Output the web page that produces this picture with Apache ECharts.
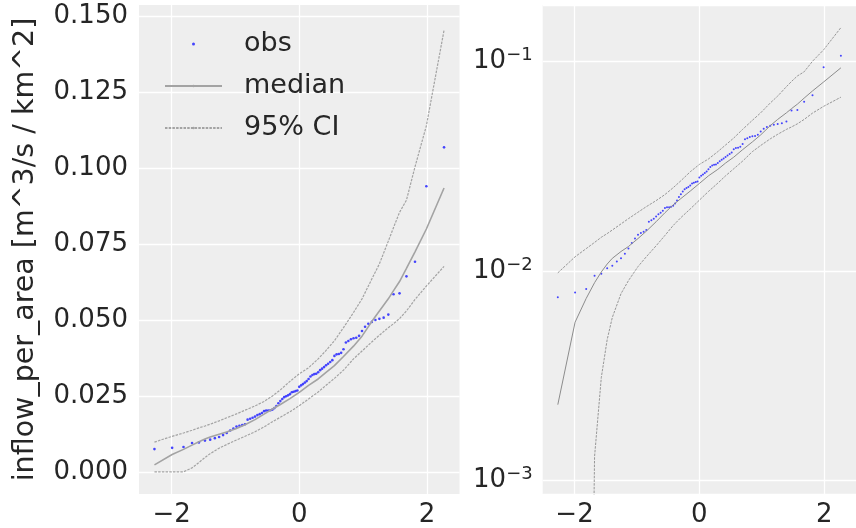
<!DOCTYPE html>
<html>
<head>
<meta charset="utf-8">
<script src="https://cdn.jsdelivr.net/npm/echarts@6/dist/echarts.min.js"></script>
<style>
  html, body { margin: 0; padding: 0; background: #fff; }
  #main { width: 856px; height: 528px; }
</style>
</head>
<body>
<div id="main"></div>
<script>
// theoretical normal quantiles of the sorted observations
const obsX = [-2.268, -1.991, -1.813, -1.679, -1.571, -1.477, -1.395, -1.322, -1.255, -1.193,
  -1.136, -1.082, -1.031, -0.983, -0.937, -0.893, -0.850, -0.809, -0.769, -0.731,
  -0.693, -0.656, -0.620, -0.585, -0.551, -0.518, -0.485, -0.452, -0.420, -0.389,
  -0.358, -0.327, -0.296, -0.266, -0.236, -0.206, -0.176, -0.146, -0.117, -0.088,
  -0.058, -0.029, 0, 0.029, 0.058, 0.088, 0.117, 0.146, 0.176, 0.206,
  0.236, 0.266, 0.296, 0.327, 0.358, 0.389, 0.420, 0.452, 0.485, 0.518,
  0.551, 0.585, 0.620, 0.656, 0.693, 0.731, 0.769, 0.809, 0.850, 0.893,
  0.937, 0.983, 1.031, 1.082, 1.136, 1.193, 1.255, 1.322, 1.395, 1.477,
  1.571, 1.679, 1.813, 1.991, 2.268];
// observed inflow_per_area, sorted
const obsY = [0.0075, 0.0079, 0.0082, 0.0095, 0.0097, 0.0103, 0.0106, 0.0111, 0.0115, 0.0121,
  0.0128, 0.0136, 0.0143, 0.0149, 0.0152, 0.0154, 0.0157, 0.0172, 0.0175, 0.0178,
  0.0182, 0.0187, 0.0190, 0.0194, 0.0200, 0.0202, 0.0202, 0.0203, 0.0205, 0.0210,
  0.0217, 0.0226, 0.0233, 0.0240, 0.0246, 0.0249, 0.0252, 0.0256, 0.0262, 0.0264,
  0.0266, 0.0268, 0.0280, 0.0285, 0.0289, 0.0294, 0.0299, 0.0306, 0.0314, 0.0319,
  0.0322, 0.0323, 0.0328, 0.0335, 0.0340, 0.0345, 0.0351, 0.0356, 0.0362, 0.0368,
  0.0382, 0.0387, 0.0388, 0.0392, 0.0404, 0.0426, 0.0431, 0.0437, 0.0440, 0.0442,
  0.0448, 0.0464, 0.0478, 0.0488, 0.0494, 0.0500, 0.0504, 0.0508, 0.0518, 0.0585,
  0.0588, 0.0644, 0.0692, 0.0941, 0.1069];

// predictive median and 95% band
const lineX = [-2.268, -1.991, -1.813, -1.679, -1.571, -1.477, -1.395, -1.255, -1.136, -0.983,
  -0.850, -0.693, -0.551, -0.420, -0.296, -0.146, 0, 0.146, 0.296, 0.420,
  0.551, 0.693, 0.850, 0.983, 1.136, 1.255, 1.395, 1.477, 1.571, 1.679,
  1.813, 1.991, 2.268];
const medianY = [0.0023, 0.0057, 0.0074, 0.0088, 0.0099, 0.0108, 0.0115, 0.0124, 0.0131, 0.0143,
  0.0155, 0.0172, 0.0190, 0.0207, 0.0222, 0.0241, 0.0262, 0.0285, 0.0306, 0.0328,
  0.0350, 0.0380, 0.0414, 0.0447, 0.0495, 0.0530, 0.0570, 0.0597, 0.0627, 0.0670,
  0.0725, 0.0800, 0.0935];
const lowerY = [0, 0, 0, 0.0013, 0.0031, 0.0047, 0.0060, 0.0078, 0.0090, 0.0105,
  0.0117, 0.0132, 0.0148, 0.0165, 0.0180, 0.0198, 0.0218, 0.0240, 0.0263, 0.0285,
  0.0308, 0.0335, 0.0372, 0.0398, 0.0428, 0.0450, 0.0475, 0.0488, 0.0505, 0.0530,
  0.0568, 0.0612, 0.0677];
const upperY = [0.0098, 0.0117, 0.0128, 0.0137, 0.0145, 0.0151, 0.0157, 0.0168, 0.0178, 0.0191,
  0.0203, 0.0217, 0.0232, 0.0250, 0.0270, 0.0298, 0.0323, 0.0343, 0.0372, 0.0400,
  0.0432, 0.0475, 0.0525, 0.0570, 0.0635, 0.0685, 0.0760, 0.0805, 0.0855, 0.0895,
  0.1005, 0.1140, 0.1455];

const xTicks = [-2, 0, 2];
const yTicks = [0, 0.025, 0.05, 0.075, 0.1, 0.125, 0.15];

const FONT = 'DejaVu Sans';
const TEXT = '#262626';

const pairs = (xs, ys) => xs.map((x, i) => [x, ys[i]]);
// zero can't sit on a log axis: push it far below the bottom, like matplotlib clips it
const positive = ys => ys.map(v => v > 0 ? v : 1e-6);
const minus = v => v < 0 ? '\u2212' + Math.abs(v) : String(v);

function xAxisFor(gridIndex) {
  return {
    type: 'value', gridIndex: gridIndex, min: -2.51, max: 2.51,
    axisLine: {show: false},
    axisTick: {show: false, customValues: xTicks},
    axisLabel: {customValues: xTicks, formatter: minus, fontSize: 26, fontFamily: FONT, color: TEXT, margin: 8},
    splitLine: {lineStyle: {color: '#ffffff', width: 1.3}}
  };
}

function seriesFor(idx, ys) {
  const medColor = idx === 0 ? '#a3a3a3' : '#8c8c8c';
  const medWidth = idx === 0 ? 1.6 : 1;
  const ciWidth = idx === 0 ? 1.2 : 0.9;
  const line = (name, data, dashed) => ({
    name: name, type: 'line', xAxisIndex: idx, yAxisIndex: idx,
    data: data, symbol: 'none', showSymbol: false, clip: true,
    lineStyle: {color: medColor, width: dashed ? ciWidth : medWidth, type: dashed ? [2.5, 1.2] : 'solid'},
    itemStyle: {color: medColor}
  });
  return [
    line('median', pairs(lineX, ys(medianY)), false),
    line('95% CI', pairs(lineX, ys(lowerY)), true),
    line('95% CI', pairs(lineX, ys(upperY)), true),
    {
      name: 'obs', type: 'scatter', xAxisIndex: idx, yAxisIndex: idx,
      data: pairs(obsX, obsY), symbol: 'circle', symbolSize: idx === 0 ? 2.6 : 2,
      itemStyle: {color: '#2626ff', opacity: 0.85}
    }
  ];
}

const chart = echarts.init(document.getElementById('main'), null, {renderer: 'canvas'});
chart.setOption({
  animation: false,
  backgroundColor: '#ffffff',
  textStyle: {fontFamily: FONT},
  grid: [
    {left: 139, top: 5, width: 320.5, height: 491, show: true, backgroundColor: '#eeeeee', borderWidth: 0},
    {left: 542.7, top: 5, width: 320.5, height: 491, show: true, backgroundColor: '#eeeeee', borderWidth: 0}
  ],
  legend: {
    orient: 'vertical', left: 159, top: 24,
    itemWidth: 57, itemHeight: 3, itemGap: 12,
    data: ['obs', 'median', '95% CI'],
    textStyle: {fontSize: 27, lineHeight: 30, color: TEXT, fontFamily: FONT, padding: [0, 0, 0, 17]}
  },
  xAxis: [xAxisFor(0), xAxisFor(1)],
  yAxis: [
    {
      type: 'value', gridIndex: 0, min: -0.0073, max: 0.1538,
      name: 'inflow_per_area [m^3/s / km^2]', nameLocation: 'middle', nameRotate: 90, nameGap: 99,
      nameTextStyle: {fontSize: 28.5, color: TEXT, fontFamily: FONT},
      axisLine: {show: false},
      axisTick: {show: false, customValues: yTicks},
      axisLabel: {customValues: yTicks, formatter: v => v.toFixed(3), fontSize: 26, fontFamily: FONT, color: TEXT, margin: 11},
      splitLine: {lineStyle: {color: '#ffffff', width: 1.3}}
    },
    {
      type: 'log', logBase: 10, gridIndex: 1, min: 0.000861, max: 0.1866,
      axisLine: {show: false},
      axisTick: {show: false},
      minorTick: {show: false},
      axisLabel: {
        showMinLabel: false, showMaxLabel: false, margin: 10,
        formatter: v => {
          const p = Math.log10(v);
          if (Math.abs(p - Math.round(p)) > 1e-6) return '';
          return '{b|10}{s|\u2212' + Math.abs(Math.round(p)) + '}';
        },
        rich: {
          b: {fontSize: 26, lineHeight: 30, color: TEXT, fontFamily: FONT},
          s: {fontSize: 18, lineHeight: 18, verticalAlign: 'top', color: TEXT, fontFamily: FONT}
        }
      },
      splitLine: {lineStyle: {color: '#ffffff', width: 1.3}}
    }
  ],
  series: seriesFor(0, ys => ys).concat(seriesFor(1, positive))
});
</script>
</body>
</html>
